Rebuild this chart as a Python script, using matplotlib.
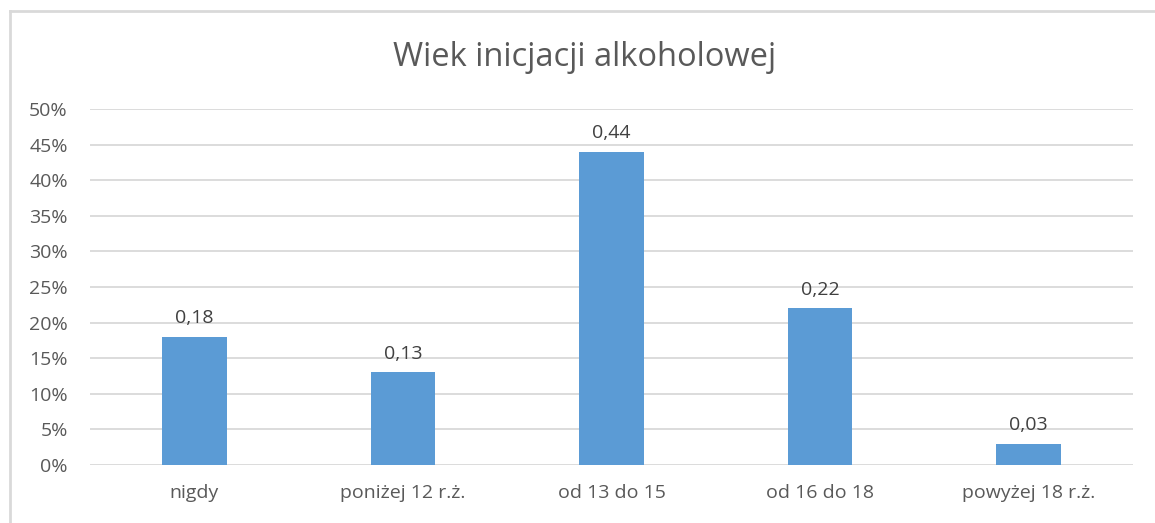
import matplotlib.pyplot as plt
from matplotlib.lines import Line2D
from matplotlib.ticker import FuncFormatter, MultipleLocator

categories = ["nigdy", "poniżej 12 r.ż.", "od 13 do 15", "od 16 do 18", "powyżej 18 r.ż."]
values = [0.18, 0.13, 0.44, 0.22, 0.03]
labels = ["0,18", "0,13", "0,44", "0,22", "0,03"]
title = "Wiek inicjacji alkoholowej"

plt.rcParams['font.family'] = ['Open Sans', 'DejaVu Sans']
txt = "#595959"
W, H = 1155, 523
fig = plt.figure(figsize=(W / 100, H / 100), dpi=100)
ax = fig.add_axes([90 / W, 1 - 465 / H, (1133 - 90) / W, (465 - 109) / H])

x = range(len(categories))
ax.bar(x, values, width=0.31, color="#5B9BD5", zorder=3)
for i, (v, l) in enumerate(zip(values, labels)):
    ax.annotate(l, (i, v), xytext=(0, 7), textcoords="offset points",
                ha="center", va="bottom", fontsize=14, color="#404040")

ax.set_xlim(-0.5, len(categories) - 0.5)
ax.set_ylim(0, 0.5)
ax.yaxis.set_major_locator(MultipleLocator(0.05))
ax.yaxis.set_major_formatter(FuncFormatter(lambda v, p: f"{round(v * 100)}%"))
ax.set_xticks(list(x))
ax.set_xticklabels(categories)
ax.grid(axis="y", color="#D9D9D9", linewidth=1.3, zorder=0)
for s in ax.spines.values():
    s.set_visible(False)
ax.tick_params(axis="both", length=0, labelsize=14, labelcolor=txt)
ax.tick_params(axis="y", pad=16)
ax.tick_params(axis="x", pad=14)

fig.text(585 / W, 1 - 57 / H, title, ha="center", va="center", fontsize=23.5, color=txt)

fig.add_artist(Line2D([9.5 / W, 9.5 / W], [0, 1 - 11 / H], transform=fig.transFigure,
                      color="#D9D9D9", linewidth=2))
fig.add_artist(Line2D([9.5 / W, 1], [1 - 11 / H, 1 - 11 / H], transform=fig.transFigure,
                      color="#D9D9D9", linewidth=2))

fig.savefig("out.png", dpi=100)
